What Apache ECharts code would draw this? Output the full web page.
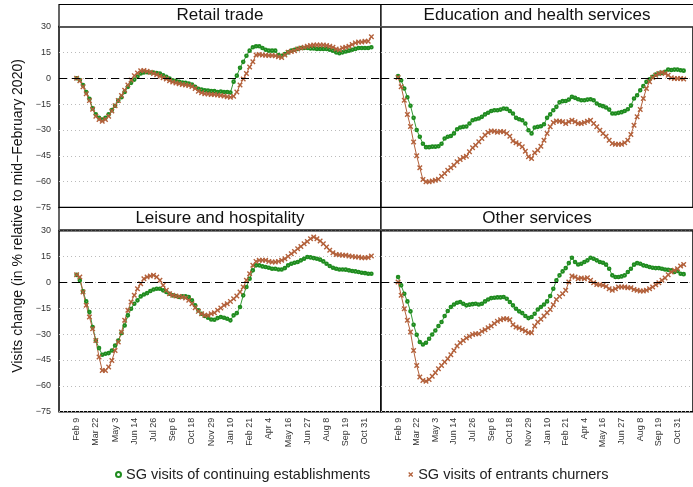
<!DOCTYPE html>
<html style="height: 100%">
<head>
    <meta charset="utf-8">
</head>
<body style="height: 100%; margin: 0; background: #fff">
<div id="container" style="width: 693px; height: 487px"></div>
<script src="https://cdn.jsdelivr.net/npm/echarts@6/dist/echarts.min.js"></script>
<script type="text/javascript">
    // weekly points, week 0 = Feb 9 2020 ... week 92 = Nov 14 2021
    var tickWeeks = [0, 6, 12, 18, 24, 30, 36, 42, 48, 54, 60, 66, 72, 78, 84, 90];
    var tickLabels = ['Feb 9', 'Mar 22', 'May 3', 'Jun 14', 'Jul 26', 'Sep 6', 'Oct 18', 'Nov 29',
        'Jan 10', 'Feb 21', 'Apr 4', 'May 16', 'Jun 27', 'Aug 8', 'Sep 19', 'Oct 31'];
    var panels = ['Retail trade', 'Education and health services', 'Leisure and hospitality', 'Other services'];
    var seriesNames = ['SG visits of continuing establishments', 'SG visits of entrants churners'];

    var retailCont = [0, -1, -4, -8, -12, -17.5, -21, -23, -24, -23,
        -21, -18.5, -16, -13, -11, -8, -5, -2.7, -0.8, 1,
        2.7, 3.3, 3.5, 3.3, 3.3, 3, 2.7, 1.7, 0.8, -0.2,
        -1.2, -1.7, -2.1, -2.5, -2.7, -3.1, -3.7, -5, -6.2, -6.6,
        -7, -7.2, -7.5, -7.5, -8, -7.7, -8, -8, -8.3, -2,
        1.5, 6, 9.5, 13, 16, 18, 18.5, 18.5, 17.5, 16.5,
        16, 16, 16, 13.5, 13, 14, 15, 16, 16.5, 17,
        17.5, 17.5, 17.5, 17.3, 17.3, 17, 17, 17, 17, 16.5,
        16, 15, 14.5, 15, 15.5, 16, 16.5, 17, 17.5, 17.5,
        17.5, 17.5, 18];
    var retailEnt = [0, -1.5, -5, -9, -13, -18, -22, -24, -25, -24,
        -22, -19, -16, -13, -10, -7, -4, -1, 1.5, 3,
        4.3, 4.5, 4, 3.5, 2.8, 2, 1.2, 0.3, -0.5, -1.5,
        -2.2, -2.8, -3.2, -3.6, -4, -4.2, -4.8, -6, -7.5, -8.5,
        -9, -9.2, -9.4, -9.5, -9.8, -10, -10.3, -10.8, -11, -10.5,
        -8, -4, -0.5, 2.7, 6.5, 9.5, 13.5, 13.8, 13.5, 13.3,
        13.2, 13.2, 13, 12.5, 12, 13.5, 15, 15.5, 16, 17,
        17.5, 18, 18.5, 19, 19.3, 19.3, 19.3, 19.3, 19, 18.5,
        18, 17, 16.5, 17.5, 18, 18.5, 19.5, 20.5, 21, 21,
        21.5, 21.5, 24];
    var eduCont = [1.2, -1.2, -6, -11, -16, -23, -30, -34, -38, -40,
        -40, -39.7, -39.7, -39.5, -38, -35, -34, -33.5, -32, -29.6,
        -28.6, -28.2, -28, -26.3, -24.4, -23.8, -23.4, -22.4, -21, -20,
        -19, -18.6, -18.6, -18.2, -17.6, -17.8, -19, -20.5, -23, -23.8,
        -24.4, -26.3, -30.2, -32, -28.6, -28.2, -27.9, -26.7, -23, -21,
        -18.6, -16.6, -14, -13.3, -13.2, -12.4, -10.8, -11.4, -12.2, -12.8,
        -12.8, -12.4, -12.2, -12.8, -14.7, -15.7, -16.2, -17, -18.2, -20.5,
        -20.5, -20.1, -19.7, -19, -18, -15.9, -11.8, -9.9, -7, -4.6,
        -2.1, -0.6, 0.8, 2.1, 2.7, 3.1, 3.7, 5, 4.8, 5,
        5, 4.6, 4.4];
    var eduEnt = [0.4, -5, -12.8, -21, -28, -37, -45, -52, -58.8, -60,
        -60, -59.6, -59.2, -58.6, -56.9, -55.3, -53.4, -52, -50.5, -48.5,
        -47.2, -46, -45.3, -42.7, -40.4, -38.9, -36.9, -35, -33, -31.5,
        -30.6, -30.8, -31.3, -30.9, -31.1, -32, -33.7, -36.4, -37.5, -38.3,
        -39.8, -42.4, -45.6, -46.6, -43.3, -41.8, -39.5, -36, -32, -28.2,
        -25.7, -24.8, -25, -25.3, -26.3, -25.3, -24.4, -25.3, -26.3, -26.3,
        -25.7, -25, -24.4, -26.3, -28.2, -30.2, -32.1, -33.7, -36, -37.9,
        -38.3, -38.3, -38.3, -37.5, -36, -32.7, -27.3, -22.4, -18.2, -11.8,
        -6, -2.1, 0.4, 1.7, 2.7, 3.3, 2.7, 1.7, 0.2, -0.2,
        -0.2, -0.2, -0.4];
    var leisCont = [4.4, 1.2, -5.2, -11, -17.2, -25.9, -33.7, -38.1, -42, -41.4,
        -41, -39.5, -36.6, -33.7, -29.4, -25, -19.1, -15.3, -12.4, -10.4,
        -8.1, -7, -6.2, -5, -4.1, -3.7, -3.7, -4.6, -5.6, -6.6,
        -7.5, -7.9, -8.5, -8.1, -8.1, -8.5, -10.4, -13.3, -16.2, -18.2,
        -19.5, -20.5, -21.5, -21.7, -20.7, -20.1, -20.5, -21.1, -22, -19.1,
        -17.8, -14.3, -7.5, -2.7, 2.1, 7, 9.9, 9.9, 9.3, 8.9,
        8.5, 7.9, 7.9, 7.5, 7.5, 8.3, 9.9, 10.8, 11.4, 11.8,
        12.8, 13.7, 14.7, 14.5, 14.1, 13.7, 13.2, 12.2, 10.8, 9.5,
        8.5, 7.9, 7.5, 7.5, 7.4, 7, 6.6, 6.4, 6, 5.6,
        5.4, 5, 5];
    var leisEnt = [4.4, 3.1, -5.6, -13.3, -20.1, -26.9, -33.7, -43.3, -51.1, -51.1,
        -49.1, -45.3, -39.5, -34.6, -28.8, -22, -16.2, -11.4, -7.5, -3.7,
        -0.8, 2.1, 3.1, 3.7, 4.1, 3.1, 1.2, -1.7, -4.6, -6.6,
        -7.5, -7.9, -8.1, -8.5, -9.1, -10.4, -12.4, -14.7, -16.8, -18.2,
        -19.1, -19.1, -18.2, -17.6, -16.2, -14.9, -13.3, -12.4, -11, -9.5,
        -7.9, -5.6, -2.7, 1.2, 5, 9.9, 12.2, 12.8, 12.8, 12.8,
        12.2, 11.8, 11.8, 12.2, 12.8, 13.7, 15.1, 16.6, 18, 19.5,
        20.9, 22.4, 23.8, 25.3, 26.3, 25.3, 24, 22.4, 20.5, 18.6,
        17.2, 16.2, 16.1, 15.7, 15.7, 15.3, 15.1, 14.7, 14.7, 14.3,
        14.3, 14.5, 15.3];
    var otherCont = [3.1, -1.7, -6.6, -11, -16.8, -24.6, -30.4, -34.6, -36, -35,
        -32.7, -30.2, -27.9, -25.3, -23, -19.5, -16.6, -14.3, -12.8, -11.8,
        -11.4, -12.4, -13.3, -12.9, -12.6, -12.4, -12.8, -12.4, -11, -9.9,
        -9.1, -8.9, -8.7, -8.7, -8.5, -9.5, -11.4, -13.3, -15.3, -16.8,
        -17.8, -19.5, -20.7, -20.1, -18.2, -15.7, -14.3, -12.8, -11, -7.9,
        -3.7, 1.2, 4.1, 6.4, 8.3, 11.2, 14.3, 11.8, 10.4, 10.8,
        11.8, 12.8, 14.3, 13.7, 12.8, 11.8, 11.4, 10.3, 7.9, 4.1,
        3.1, 3.1, 3.5, 4.1, 6, 7.9, 10.3, 11.2, 10.8, 9.9,
        9.5, 8.9, 8.5, 8.3, 8.3, 7.9, 7.5, 7.3, 7, 6,
        6.6, 5, 4.8];
    var otherEnt = [0.2, -7.5, -15.3, -22, -28.8, -39.5, -48.2, -54.9, -56.9, -57.4,
        -56.3, -54.5, -52.4, -50.1, -48.2, -46.2, -44.3, -42, -39.5, -36.9,
        -35, -33.7, -32.3, -31.3, -30.2, -29.8, -29.8, -28.4, -27.5, -26.3,
        -25.3, -23.9, -22.6, -21.6, -21.1, -21.1, -21.6, -24.6, -25.9, -26.5,
        -27.3, -28.2, -29.2, -29.2, -25.3, -23, -21.4, -19.5, -17.6, -15.7,
        -13, -9.9, -8.1, -6.6, -4.6, 0.2, 3.7, 3.1, 2.1, 2.5,
        2.1, 2.7, 1.2, -0.2, -1.2, -1.4, -1.7, -2.3, -3.7, -4.6,
        -3.7, -2.7, -2.7, -2.7, -3.1, -3.1, -4.1, -4.6, -5, -5,
        -4.6, -3.7, -2.7, -1.4, -0.2, 1.2, 2.5, 4.4, 6, 7,
        7.9, 9.5, 10.4];

    var contData = [retailCont, eduCont, leisCont, otherCont];
    var entData = [retailEnt, eduEnt, leisEnt, otherEnt];

    var green = '#1f8c1f';
    var brown = '#b3613b';
    var font = '"Liberation Sans", Arial, sans-serif';
    var xMark = 'path://M0,1.8L1.8,0L5,3.2L8.2,0L10,1.8L6.8,5L10,8.2L8.2,10L5,6.8L1.8,10L0,8.2L3.2,5Z';

    var dom = document.getElementById("container");
    var myChart = echarts.init(dom);

    // panel geometry
    var lefts = [59, 381, 59, 381];
    var tops = [26.5, 26.5, 230.7, 230.7];
    var pw = 322, ph = 181;

    var grids = [], xAxes = [], yAxes = [], series = [];
    function pairs(arr) {
        var out = [];
        for (var i = 0; i < arr.length; i++) out.push([i, arr[i]]);
        return out;
    }
    for (var p = 0; p < 4; p++) {
        var isLeft = (p % 2 === 0), isBottom = (p >= 2);
        grids.push({left: lefts[p], top: tops[p], width: pw, height: ph,
            show: true, borderColor: '#000', borderWidth: 1.5, backgroundColor: '#fff'});
        xAxes.push({
            type: 'value', gridIndex: p, min: -5.5, max: 95,
            splitLine: {show: false}, axisLine: {show: false},
            axisTick: {show: false},
            axisLabel: {
                show: isBottom, customValues: tickWeeks, rotate: 90, fontSize: 9, color: '#333',
                fontFamily: font, margin: 6,
                formatter: function (v) {
                    var i = tickWeeks.indexOf(Math.round(v));
                    return i >= 0 ? tickLabels[i] : '';
                }
            }
        });
        yAxes.push({
            type: 'value', gridIndex: p, min: -75, max: 30, interval: 15,
            axisLine: {show: false},
            axisTick: {show: false},
            axisLabel: {
                show: isLeft, fontSize: 9, color: '#333', fontFamily: font, margin: 8,
                formatter: function (v) { return v < 0 ? '\u2212' + Math.abs(v) : String(v); }
            },
            splitLine: {show: true, lineStyle: {color: '#bbb', type: [1, 3], width: 1}}
        });
        series.push({
            name: seriesNames[0], type: 'line', xAxisIndex: p, yAxisIndex: p,
            data: pairs(contData[p]), symbol: 'emptyCircle', symbolSize: 2.6,
            lineStyle: {color: green, width: 0.9}, itemStyle: {color: green, borderWidth: 0.7},
            animation: false,
            markLine: {
                silent: true, symbol: 'none', label: {show: false},
                lineStyle: {color: '#000', type: [8, 5], width: 1},
                data: [{yAxis: 0}]
            }
        });
        series.push({
            name: seriesNames[1], type: 'line', xAxisIndex: p, yAxisIndex: p,
            data: pairs(entData[p]), symbol: xMark, symbolSize: 5.5,
            lineStyle: {color: brown, width: 1}, itemStyle: {color: brown},
            animation: false
        });
    }

    // facet strips
    var graphics = [];
    var stripTop = [4.5, 4.5, 207.5, 207.5];
    for (var s = 0; s < 4; s++) {
        graphics.push({
            type: 'rect', z: 10,
            shape: {x: lefts[s], y: stripTop[s], width: pw, height: 22.5},
            style: {fill: '#fff', stroke: '#000', lineWidth: 1.2}
        });
        graphics.push({
            type: 'rect', z: 11,
            shape: {x: lefts[s], y: stripTop[s] + 21.5, width: pw, height: 1.5},
            style: {fill: '#555'}
        });
        graphics.push({
            type: 'text', z: 11,
            x: lefts[s] + (s % 2 === 0 ? pw / 2 : 312 / 2), y: stripTop[s] + 11,
            style: {text: panels[s], fontSize: 17, fill: '#111', fontFamily: font,
                align: 'center', verticalAlign: 'middle'}
        });
    }
    graphics.push({
        type: 'text', z: 11, x: 18, y: 216, rotation: Math.PI / 2,
        style: {text: 'Visits change (in % relative to mid\u2212February 2020)', fontSize: 14,
            fill: '#111', fontFamily: font, align: 'center', verticalAlign: 'middle'}
    });

    var option = {
        backgroundColor: '#fff',
        animation: false,
        grid: grids,
        xAxis: xAxes,
        yAxis: yAxes,
        series: series,
        graphic: graphics,
        legend: {
            left: 110, top: 462, itemWidth: 5, itemHeight: 5, itemGap: 38,
            textStyle: {fontSize: 14.5, color: '#222', fontFamily: font},
            data: [
                {name: seriesNames[0], icon: 'emptyCircle', itemStyle: {borderWidth: 1}},
                {name: seriesNames[1], icon: xMark, itemStyle: {borderWidth: 0}}
            ]
        }
    };
    myChart.setOption(option);
</script>
</body>
</html>
